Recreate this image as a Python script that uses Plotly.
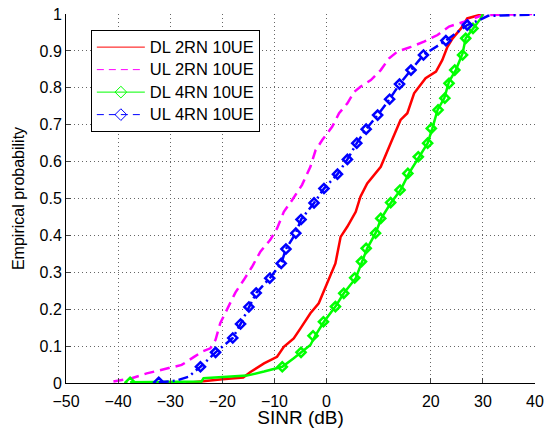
import plotly.graph_objects as go

# DL 2RN 10UE (red, solid)
dl2_x = [-27, -24, -20, -16, -14.6, -12, -9.5, -8.2, -6.3, -5, -3.1, -1.5, -0.2, 0.8, 1.7, 2.7, 4, 5.6,
         6.5, 7.8, 10.4, 12.3, 14.2, 15.5, 16.8, 19, 21, 22.2, 23.2, 24.2, 25.8, 27, 29, 30]
dl2_y = [0, 0.005, 0.01, 0.015, 0.03, 0.053, 0.071, 0.098, 0.121, 0.148, 0.189, 0.216, 0.261, 0.293,
         0.324, 0.396, 0.424, 0.464, 0.505, 0.541, 0.586, 0.65, 0.713, 0.731, 0.785, 0.826, 0.844,
         0.875, 0.911, 0.934, 0.961, 0.988, 0.997, 1]

# UL 2RN 10UE (magenta, dashed)
ul2_x = [-40.9, -37.4, -34.5, -31, -27.8, -25.5, -23.9, -22.3, -21.3, -20.4, -19.2, -17.5, -15.9, -14.3,
         -12.7, -10.8, -9.5, -8.2, -6.6, -4.7, -3.1, -2.1, -0.8, 1.1, 2.4, 4, 5.3, 6.5, 8.5, 10.4,
         12, 13.6, 16.2, 18.7, 21.3, 23.5, 26.4, 28.3, 30, 40]
ul2_y = [0.004, 0.013, 0.026, 0.037, 0.049, 0.07, 0.085, 0.094, 0.117, 0.162, 0.198, 0.245, 0.279,
         0.315, 0.356, 0.388, 0.419, 0.464, 0.496, 0.537, 0.586, 0.631, 0.659, 0.695, 0.731, 0.758,
         0.789, 0.803, 0.821, 0.848, 0.88, 0.898, 0.911, 0.925, 0.943, 0.966, 0.979, 0.988, 0.997, 1]

# DL 4RN 10UE (green, solid, diamonds)
dl4_x = [-37.7, -24, -23.6, -15.3, -12, -8.5, -6.3, -4.9, -3.1, -2.1, -0.5, 1.7, 3.3, 5.6, 6.9, 7.8,
         9.4, 10.5, 12.3, 14.2, 15.8, 17.8, 19.4, 20.3, 21.3, 22.6, 23.5, 24.8, 26.1, 26.7, 28, 29, 29.6, 30]
dl4_y = [0.002, 0.004, 0.013, 0.02, 0.031, 0.044, 0.067, 0.083, 0.103, 0.13, 0.166, 0.207, 0.243,
         0.284, 0.329, 0.365, 0.406, 0.446, 0.487, 0.523, 0.568, 0.613, 0.65, 0.69, 0.74, 0.772,
         0.817, 0.848, 0.893, 0.934, 0.957, 0.975, 0.988, 1]
dl4_mk_x = [-37.7, -8.5, -4.9, -2.6, -0.6, 1.7, 3.3, 5.4, 6.7, 7.6, 9.4, 10.4, 12.3, 14.1, 15.6, 17.6,
            19.4, 20.1, 21.4, 22.7, 23.5, 24.6, 26.1, 26.7, 28.1]
dl4_mk_y = [0.002, 0.044, 0.083, 0.128, 0.166, 0.207, 0.243, 0.285, 0.329, 0.365, 0.406, 0.446, 0.489,
            0.523, 0.568, 0.613, 0.65, 0.69, 0.74, 0.772, 0.812, 0.848, 0.889, 0.934, 0.961]

# UL 4RN 10UE (blue, dash-dot, diamonds)
ul4_x = [-32.2, -29, -26.5, -24.2, -21.3, -18, -16.5, -14.9, -13.5, -10.9, -8.7, -7.8, -5.9, -4.9,
         -2.4, -0.5, 2.1, 4, 5.8, 7.6, 9.8, 12.1, 14, 16.2, 18.6, 22.9, 27, 29.5, 31, 40]
ul4_y = [0.002, 0.006, 0.017, 0.044, 0.083, 0.122, 0.16, 0.206, 0.244, 0.284, 0.324, 0.363, 0.406,
         0.443, 0.488, 0.527, 0.566, 0.606, 0.65, 0.688, 0.726, 0.769, 0.81, 0.848, 0.889, 0.928,
         0.97, 0.985, 0.995, 0.998]
ul4_mk_x = [-32.2, -24.2, -21.3, -18, -16.5, -14.9, -13.5, -10.9, -8.7, -7.8, -5.9, -4.9, -2.4, -0.5,
            2.1, 4, 5.8, 7.6, 9.8, 12.1, 14, 16.2, 18.6, 22.9, 27]
ul4_mk_y = [0.002, 0.044, 0.083, 0.122, 0.16, 0.206, 0.244, 0.284, 0.324, 0.363, 0.406, 0.443, 0.488,
            0.527, 0.566, 0.606, 0.65, 0.688, 0.726, 0.769, 0.81, 0.848, 0.889, 0.928, 0.97]

x_ticks = [-50, -40, -30, -20, -10, 0, 20, 30, 40]
y_ticks = [0, 0.1, 0.2, 0.3, 0.4, 0.5, 0.6, 0.7, 0.8, 0.9, 1]
y_labels = ["0", "0.1", "0.2", "0.3", "0.4", "0.5", "0.6", "0.7", "0.8", "0.9", "1"]
names = ["DL 2RN 10UE", "UL 2RN 10UE", "DL 4RN 10UE", "UL 4RN 10UE"]

RED, MAG, GRN, BLU = "#ff0000", "#ff00ff", "#00ff00", "#0000ff"
DASH = "10px,6px"
DASHDOT = "10px,4px,2px,4px"
mk = dict(symbol="diamond-open", size=7, line=dict(width=2.5))


def leg(name):
    # slightly larger text than the legend row height implies (matches the tighter MATLAB legend)
    return '<span style="font-size:16.5px">' + name + "</span>"


fig = go.Figure()
# the curves
fig.add_trace(go.Scatter(x=dl2_x, y=dl2_y, mode="lines", line=dict(color=RED, width=2.5), showlegend=False))
fig.add_trace(go.Scatter(x=ul2_x, y=ul2_y, mode="lines", line=dict(color=MAG, width=2.5, dash=DASH), showlegend=False))
fig.add_trace(go.Scatter(x=dl4_x, y=dl4_y, mode="lines", line=dict(color=GRN, width=2.5), showlegend=False))
fig.add_trace(go.Scatter(x=dl4_mk_x, y=dl4_mk_y, mode="markers", marker=dict(mk, color=GRN), showlegend=False))
fig.add_trace(go.Scatter(x=ul4_x, y=ul4_y, mode="lines", line=dict(color=BLU, width=2.5, dash=DASHDOT), showlegend=False))
fig.add_trace(go.Scatter(x=ul4_mk_x, y=ul4_mk_y, mode="markers", marker=dict(mk, color=BLU), showlegend=False))

# legend entries
leg_mk = dict(symbol="diamond-open", size=9, line=dict(width=1))
fig.add_trace(go.Scatter(x=[None], y=[None], mode="lines", name=leg(names[0]), line=dict(color=RED, width=1)))
fig.add_trace(go.Scatter(x=[None], y=[None], mode="lines", name=leg(names[1]), line=dict(color=MAG, width=1, dash="7px,5px")))
fig.add_trace(go.Scatter(x=[None], y=[None], mode="lines+markers", name=leg(names[2]),
                         line=dict(color=GRN, width=1), marker=dict(leg_mk, color=GRN)))
fig.add_trace(go.Scatter(x=[None], y=[None], mode="lines+markers", name=leg(names[3]),
                         line=dict(color=BLU, width=1, dash="7px,5px"), marker=dict(leg_mk, color=BLU)))

# page body has an 8px margin, so the figure is placed to compensate
fig.update_layout(
    width=544, height=420,
    margin=dict(l=58, r=17, t=6, b=45),
    paper_bgcolor="white", plot_bgcolor="white",
    font=dict(family="Liberation Sans, Arial, sans-serif", size=16, color="black"),
    legend=dict(x=0.053, y=0.957, xanchor="left", yanchor="top",
                bgcolor="white", bordercolor="black", borderwidth=1,
                itemwidth=48, font=dict(size=15)),
)
grid = dict(showgrid=True, gridcolor="#666", griddash="1px,3px", gridwidth=1,
            showline=True, linecolor="black", linewidth=1, ticks="inside", ticklen=5,
            zeroline=False, automargin=False, ticklabeloverflow="allow")
fig.update_xaxes(range=[-50, 40], tickvals=x_ticks, ticktext=[str(v).replace("-", "\u2212") for v in x_ticks],
                 ticklabelstandoff=4, title=dict(text="SINR (dB)", standoff=6), **grid)
fig.update_yaxes(range=[0, 1], tickvals=y_ticks, ticktext=y_labels,
                 title=dict(text="Empirical probability", standoff=10, font=dict(size=16)), **grid)

fig.write_html("out.html")
